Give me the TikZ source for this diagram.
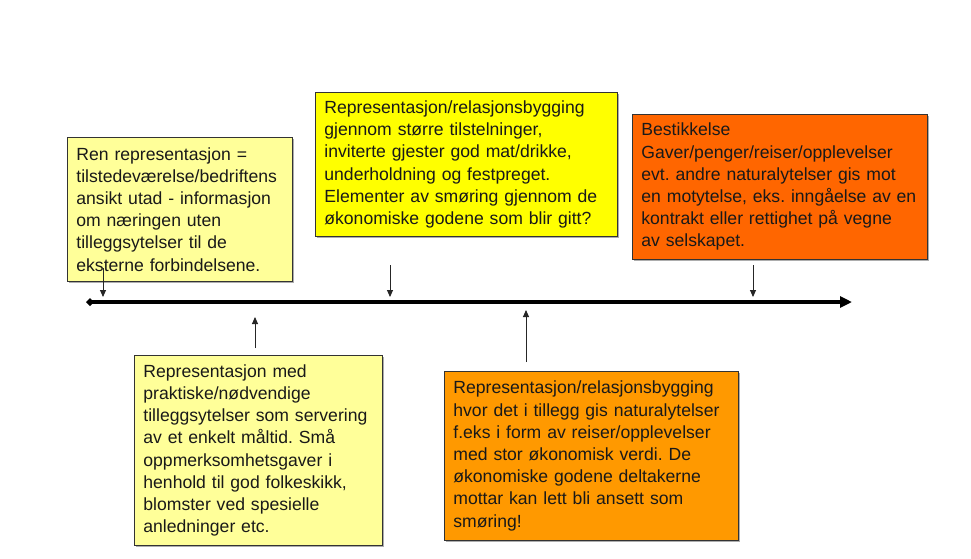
\documentclass[tikz,border=0pt]{standalone}
\usepackage{fontspec}
\setmainfont{Liberation Sans}
\usetikzlibrary{arrows.meta,shadows}
\definecolor{lightyel}{HTML}{FFFF99}
\definecolor{yel}{HTML}{FFFF00}
\definecolor{redor}{HTML}{FF6600}
\definecolor{orng}{HTML}{FF9900}
\tikzset{
  txtbox/.style={draw=black!80, line width=0.8pt, anchor=north west, align=left,
    inner xsep=9pt, inner ysep=0pt, font=\fontsize{17.6}{22.2}\selectfont\frenchspacing,
    text=black!90, drop shadow={shadow xshift=1.2pt, shadow yshift=-1.2pt, fill=black!40, opacity=0.8}},
  pointer/.style={draw=black!85, line width=0.9pt, -{Triangle[length=7pt,width=6pt]}},
  axisline/.style={line width=3.4pt, {Diamond[length=8pt,width=8pt]}-{Triangle[length=12pt,width=11pt]}}
}
\begin{document}
\begin{tikzpicture}[x=1pt,y=-1pt]
\useasboundingbox[fill=white] (0,0) rectangle (971,558);
\node[txtbox, fill=lightyel, minimum width=225pt, minimum height=144pt, text width=207pt] (b1) at (67,137)
 {Ren representasjon =\\tilstedeværelse/bedriftens\\ansikt utad - informasjon\\om næringen uten\\tilleggsytelser til de\\eksterne forbindelsene.};
\node[txtbox, fill=yel, minimum width=302pt, minimum height=144pt, text width=284pt] (b2) at (315,92)
 {Representasjon/relasjonsbygging\\gjennom større tilstelninger,\\inviterte gjester god mat/drikke,\\underholdning og festpreget.\\Elementer av smøring gjennom de\\økonomiske godene som blir gitt?};
\node[txtbox, fill=redor, minimum width=295pt, minimum height=145pt, text width=277pt] (b3) at (632,114)
 {Bestikkelse\\Gaver/penger/reiser/opplevelser\\evt. andre naturalytelser gis mot\\en motytelse, eks. inngåelse av en\\kontrakt eller rettighet på vegne\\av selskapet.};
\node[txtbox, fill=lightyel, minimum width=248pt, minimum height=190pt, text width=230pt] (b4) at (134,355)
 {Representasjon med\\praktiske/nødvendige\\tilleggsytelser som servering\\av et enkelt måltid. Små\\oppmerksomhetsgaver i\\henhold til god folkeskikk,\\blomster ved spesielle\\anledninger etc.};
\node[txtbox, fill=orng, minimum width=294pt, minimum height=169pt, text width=276pt] (b5) at (444,371)
 {Representasjon/relasjonsbygging\\hvor det i tillegg gis naturalytelser\\f.eks i form av reiser/opplevelser\\med stor økonomisk verdi. De\\økonomiske godene deltakerne\\mottar kan lett bli ansett som\\smøring!};
\coordinate (ax0) at (86,302);
\coordinate (ax1) at (852,302);
\draw[axisline] (ax0) -- (ax1);
\coordinate (s1) at (103,268); \coordinate (e1) at (103,297);
\coordinate (s2) at (390,265); \coordinate (e2) at (390,297);
\coordinate (s3) at (753,265); \coordinate (e3) at (753,297);
\coordinate (s4) at (255,348); \coordinate (e4) at (255,317);
\coordinate (s5) at (526,362); \coordinate (e5) at (526,310);
\draw[pointer] (s1) -- (e1);
\draw[pointer] (s2) -- (e2);
\draw[pointer] (s3) -- (e3);
\draw[pointer] (s4) -- (e4);
\draw[pointer] (s5) -- (e5);
\end{tikzpicture}
\end{document}
